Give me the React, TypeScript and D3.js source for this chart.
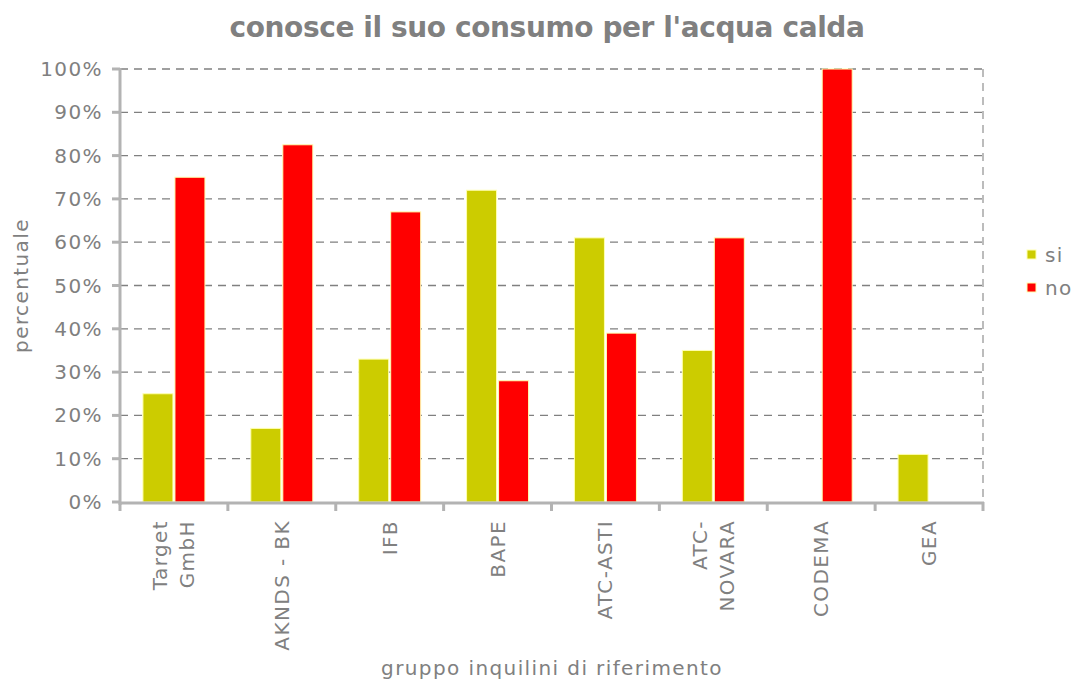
import React from "react";
import * as d3 from "d3";

const categories: string[][] = [
  ["Target", "GmbH"],
  ["AKNDS - BK"],
  ["IFB"],
  ["BAPE"],
  ["ATC-ASTI"],
  ["ATC-", "NOVARA"],
  ["CODEMA"],
  ["GEA"],
];
const siValues = [25, 17, 33, 72, 61, 35, 0, 11];
const noValues = [75, 82.5, 67, 28, 39, 61, 100, 0];
const yTicks = [0, 10, 20, 30, 40, 50, 60, 70, 80, 90, 100];
const seriesNames = ["si", "no"];
const seriesColors = ["#cccc00", "#ff0000"];

const W = 1074;
const H = 682;
const left = 120;
const right = 983;
const top = 69;
const bottom = 502;
const font = "'DejaVu Sans', Verdana, sans-serif";
const grey = "#808080";
const fs = 20;
const ls = 1.4;

export default function App() {
  const x = d3
    .scaleBand<number>()
    .domain(d3.range(categories.length))
    .range([left, right]);
  const y = d3.scaleLinear().domain([0, 100]).range([bottom, top]);
  const barW = 30;
  const gap = 2;
  const series = [siValues, noValues];

  return (
    <svg width={W} height={H} style={{ position: "absolute", left: 0, top: 0 }}>
      <rect width={W} height={H} fill="#fff" />
      <text
        x={547}
        y={37}
        textAnchor="middle"
        fontFamily={font}
        fontWeight="bold"
        fontSize={28}
        letterSpacing={-0.4}
        fill={grey}
      >
        conosce il suo consumo per l'acqua calda
      </text>
      {/* grid */}
      {yTicks.slice(1).map((t) => (
        <line
          key={t}
          x1={left}
          x2={right}
          y1={y(t)}
          y2={y(t)}
          stroke={grey}
          strokeWidth={1.3}
          strokeDasharray="8,6"
        />
      ))}
      <line
        x1={right}
        x2={right}
        y1={top}
        y2={bottom}
        stroke="#999"
        strokeWidth={1.3}
        strokeDasharray="8,6"
      />
      {/* bars */}
      {series.map((vals, si) =>
        vals.map((v, i) => {
          if (v <= 0) return null;
          const c = (x(i) as number) + x.bandwidth() / 2;
          const bx = c - barW - gap / 2 + si * (barW + gap);
          return (
            <rect
              key={`${si}-${i}`}
              x={bx}
              y={y(v)}
              width={barW}
              height={bottom - y(v)}
              fill={seriesColors[si]}
              stroke="#ffffb0"
              strokeWidth={1}
            />
          );
        })
      )}
      {/* axes */}
      <line x1={left} x2={left} y1={top - 1} y2={bottom + 3} stroke="#b3b3b3" strokeWidth={3} />
      <line x1={left - 1} x2={right + 1} y1={bottom + 1} y2={bottom + 1} stroke="#b3b3b3" strokeWidth={3} />
      {yTicks.map((t) => (
        <g key={t}>
          <line x1={left - 8} x2={left} y1={y(t)} y2={y(t)} stroke="#b3b3b3" strokeWidth={3} />
          <text
            x={103}
            y={y(t)}
            dy="0.35em"
            textAnchor="end"
            fontFamily={font}
            fontSize={fs}
            letterSpacing={ls}
            fill={grey}
          >
            {t}%
          </text>
        </g>
      ))}
      {d3.range(categories.length + 1).map((i) => {
        const xx = left + i * x.bandwidth();
        return (
          <line key={i} x1={xx} x2={xx} y1={bottom} y2={bottom + 9} stroke="#b3b3b3" strokeWidth={3} />
        );
      })}
      {categories.map((lines, i) => {
        const c = (x(i) as number) + x.bandwidth() / 2;
        const n = lines.length;
        return (
          <text
            key={i}
            transform={`translate(${c},520) rotate(-90)`}
            textAnchor="end"
            fontFamily={font}
            fontSize={fs}
            letterSpacing={ls}
            fill={grey}
          >
            {lines.map((l, k) => (
              <tspan key={k} x={0} y={(k - (n - 1) / 2) * 27} dy="0.35em">
                {l}
              </tspan>
            ))}
          </text>
        );
      })}
      <text
        transform={`translate(28,${(top + bottom) / 2}) rotate(-90)`}
        textAnchor="middle"
        fontFamily={font}
        fontSize={fs}
        letterSpacing={ls}
        fill={grey}
      >
        percentuale
      </text>
      <text x={552} y={675} textAnchor="middle" fontFamily={font} fontSize={fs} letterSpacing={ls} fill={grey}>
        gruppo inquilini di riferimento
      </text>
      {/* legend */}
      {seriesNames.map((s, i) => (
        <g key={s}>
          <rect
            x={1027}
            y={250 + i * 33}
            width={9}
            height={9}
            fill={seriesColors[i]}
            stroke="#ffffb0"
            strokeWidth={1}
          />
          <text x={1045} y={255 + i * 33} dy="0.35em" fontFamily={font} fontSize={fs} letterSpacing={ls} fill={grey}>
            {s}
          </text>
        </g>
      ))}
    </svg>
  );
}
